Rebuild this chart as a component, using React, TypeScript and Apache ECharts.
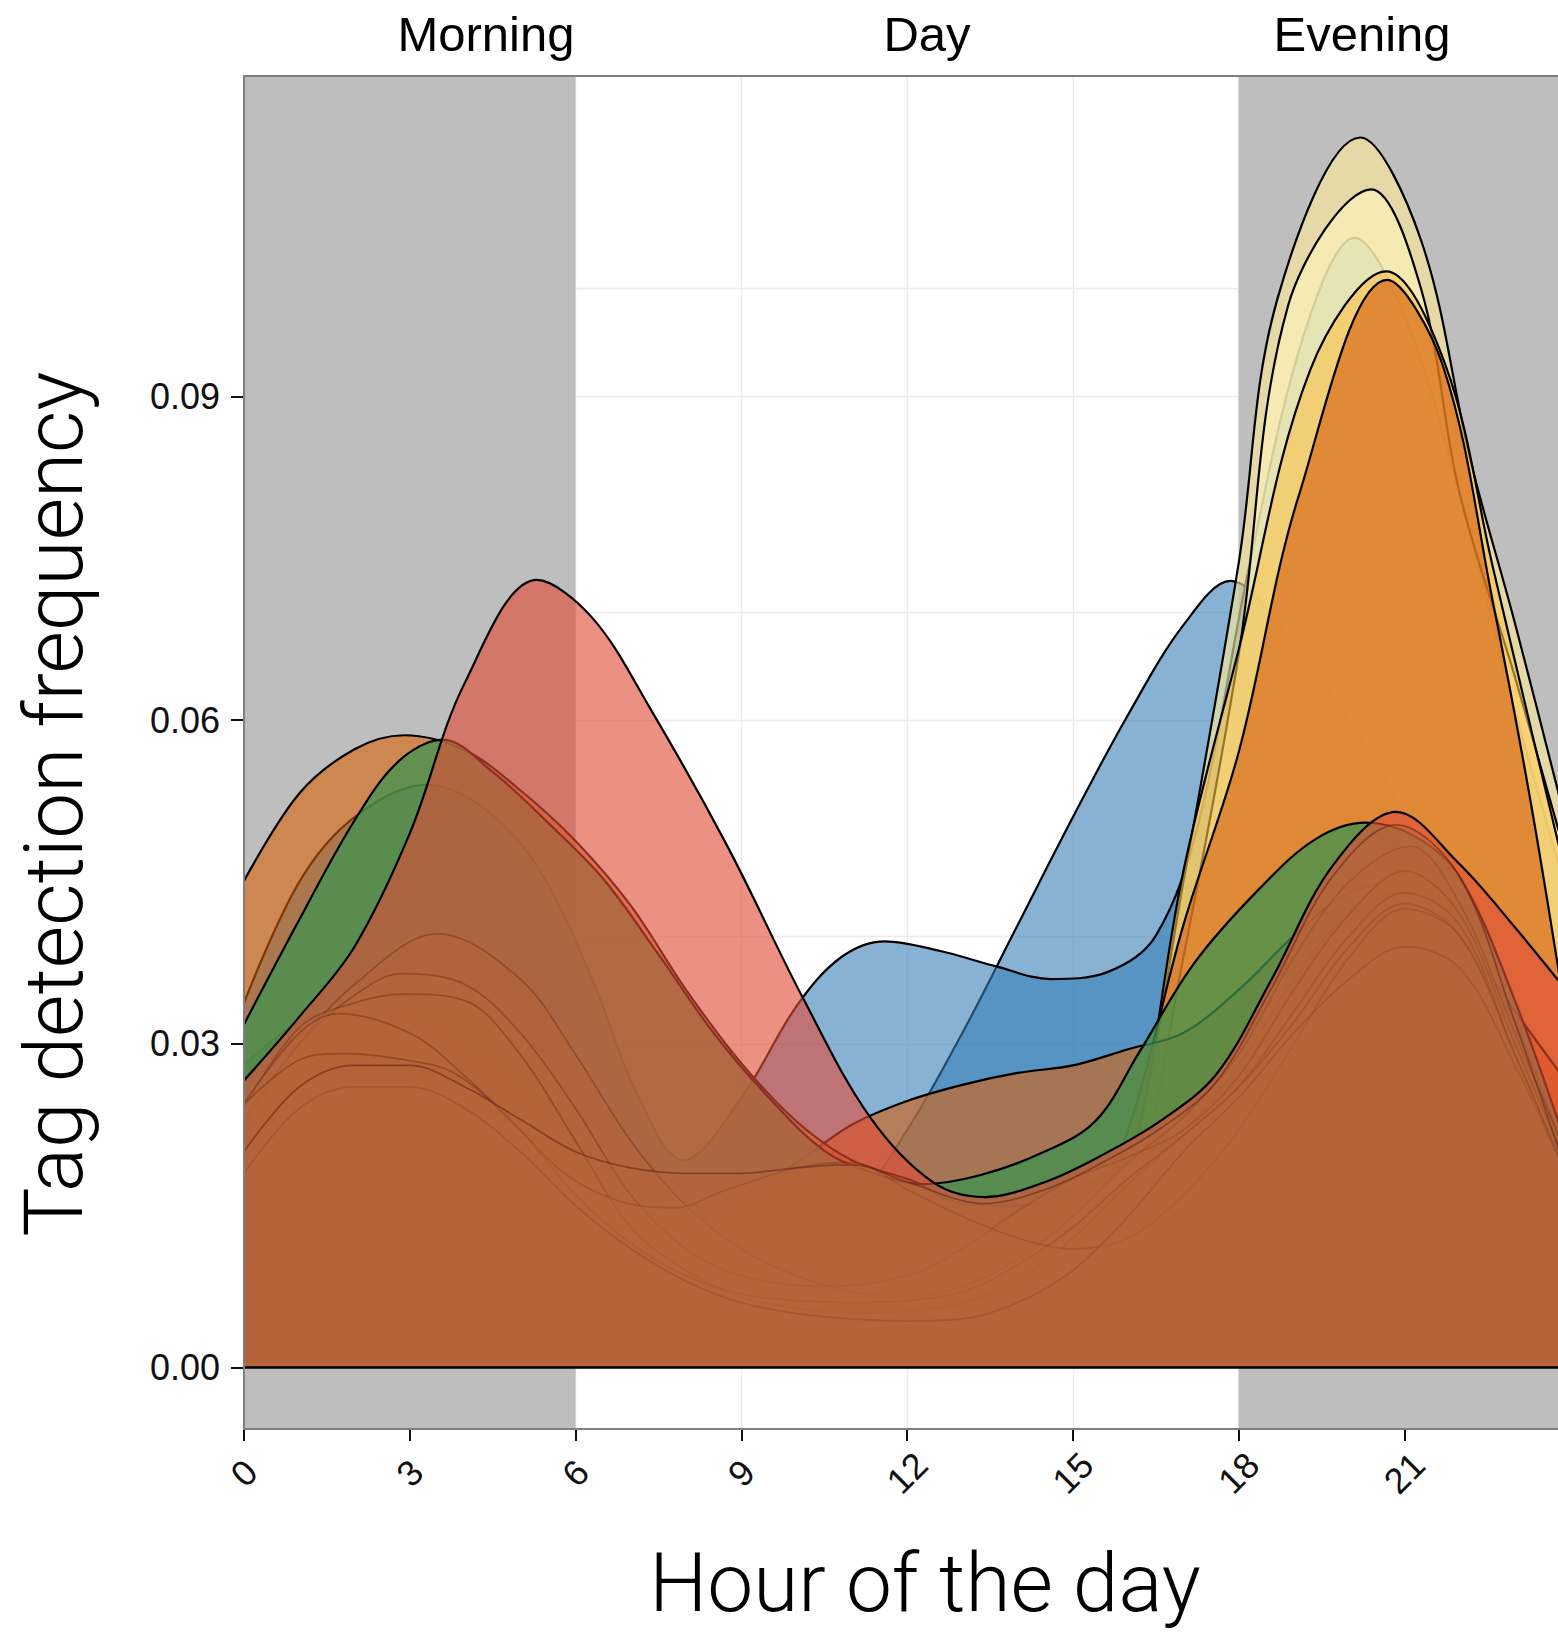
import React, { useEffect, useRef } from "react";
import * as echarts from "echarts";

// Each tag: [hour of day, density] pairs
const blueLate = [[0, 0.028], [1, 0.032], [2, 0.033], [3, 0.032], [4, 0.029], [5, 0.025], [6, 0.021], [7, 0.017], [8, 0.014], [9, 0.012], [10, 0.012], [11, 0.015], [12, 0.022], [13, 0.031], [14, 0.041], [15, 0.051], [16, 0.0605], [17, 0.0688], [17.85, 0.0729], [19, 0.067], [20, 0.06], [21, 0.0515], [22, 0.043], [23, 0.034], [24, 0.026]];
const blueTri = [[0, 0.0338], [1, 0.045], [2, 0.051], [3.3, 0.054], [4.3, 0.052], [5.3, 0.0465], [6.3, 0.036], [7.1, 0.0255], [7.95, 0.0192], [9, 0.025], [10, 0.0335], [10.8, 0.038], [11.6, 0.0395], [12.6, 0.0386], [13.6, 0.0372], [14.6, 0.036], [15.6, 0.0366], [16.5, 0.04], [17.3, 0.051], [18.2, 0.0745], [19.2, 0.096], [20.1, 0.1047], [21, 0.0975], [22, 0.081], [23, 0.061], [24, 0.043]];
const khaki = [[0, 0.012], [2, 0.013], [4, 0.011], [6, 0.007], [8, 0.005], [10, 0.004], [12, 0.0045], [14, 0.006], [15, 0.008], [16, 0.018], [17, 0.045], [18, 0.0745], [18.7, 0.099], [20.2, 0.114], [21.3, 0.1045], [22.2, 0.084], [23, 0.069], [24, 0.049]];
const paleYellow = [[0, 0.01], [2, 0.011], [4, 0.009], [6, 0.006], [8, 0.0045], [10, 0.0035], [12, 0.004], [14, 0.0055], [15, 0.007], [16, 0.014], [17, 0.038], [18, 0.066], [18.9, 0.0985], [20.4, 0.1092], [21.3, 0.1], [22, 0.081], [23, 0.064], [24, 0.046]];
const golden = [[0, 0.008], [2, 0.009], [4, 0.008], [6, 0.006], [8, 0.0045], [10, 0.004], [12, 0.0045], [14, 0.006], [15, 0.009], [16, 0.018], [17, 0.046], [18, 0.0665], [19.3, 0.0925], [20.67, 0.1016], [21.75, 0.0928], [22.6, 0.0742], [23.3, 0.059], [24, 0.044]];
const orange = [[0, 0.007], [2, 0.008], [4, 0.007], [6, 0.005], [8, 0.004], [10, 0.0035], [12, 0.004], [14, 0.007], [15, 0.011], [16, 0.022], [17, 0.041], [18, 0.057], [19.1, 0.081], [20.69, 0.1008], [21.7, 0.0928], [22.6, 0.071], [23.3, 0.052], [24, 0.03]];
const umber = [[0, 0.022], [1, 0.026], [2, 0.028], [3, 0.028], [4, 0.026], [5, 0.022], [6, 0.018], [7, 0.015], [8, 0.0135], [9, 0.016], [10, 0.019], [11, 0.0225], [12, 0.0247], [13, 0.0262], [14, 0.0273], [15, 0.028], [16, 0.0295], [17, 0.031], [18, 0.035], [19, 0.04], [20, 0.044], [21, 0.045], [22, 0.04], [23, 0.032], [24, 0.018]];
const sienna = [[0, 0.0451], [1, 0.0532], [2, 0.0573], [2.9, 0.0586], [4, 0.0572], [5, 0.0535], [6, 0.0488], [7, 0.0428], [8, 0.035], [9, 0.0282], [10, 0.0228], [11, 0.0192], [12.1, 0.0173], [13, 0.0152], [14, 0.015], [15, 0.0165], [16, 0.019], [17, 0.022], [18, 0.028], [19, 0.036], [20, 0.042], [21, 0.044], [22, 0.04], [23, 0.033], [24, 0.026]];
const green = [[0, 0.0318], [1, 0.0415], [2, 0.0507], [2.8, 0.0562], [3.6, 0.0582], [4.5, 0.0552], [5.5, 0.0505], [6.5, 0.0453], [7.5, 0.0383], [8.5, 0.031], [9.5, 0.025], [10.5, 0.0201], [11.4, 0.018], [12.3, 0.017], [13.3, 0.0178], [14.4, 0.0198], [15.4, 0.0228], [16.2, 0.0292], [17.2, 0.0375], [18.4, 0.0445], [19.4, 0.049], [20.3, 0.0505], [21.2, 0.0492], [22, 0.0455], [23, 0.034], [24, 0.0195]];
const salmon = [[0, 0.0266], [1, 0.0325], [2, 0.039], [3, 0.0495], [4, 0.0635], [5.3, 0.073], [6.3, 0.0695], [7.36, 0.061], [8.75, 0.0483], [10.13, 0.0341], [11.33, 0.0232], [12.46, 0.0172], [13.4, 0.0158], [14.5, 0.0172], [15.5, 0.0196], [16.6, 0.0229], [17.6, 0.0272], [18.6, 0.036], [19.7, 0.0465], [20.85, 0.0515], [21.97, 0.0468], [23, 0.0408], [24, 0.0345]];

// Remaining tags, all drawn in the shared brown
const brownA = [[0, 0.0225], [1, 0.03], [2, 0.0355], [3.5, 0.0402], [5, 0.036], [6, 0.029], [7, 0.021], [8, 0.015], [9, 0.011], [10, 0.0085], [11, 0.007], [12, 0.0065], [13, 0.0075], [14, 0.01], [15, 0.014], [16, 0.019], [17, 0.0232], [18, 0.029], [19, 0.038], [20, 0.045], [21.1, 0.0483], [22, 0.043], [23, 0.031], [24, 0.019]];
const brownB = [[0, 0.023], [1, 0.03], [2, 0.0345], [2.85, 0.0365], [4, 0.0355], [5, 0.031], [6, 0.024], [7, 0.016], [8, 0.011], [9, 0.0085], [10.5, 0.0075], [12, 0.0085], [13, 0.011], [14, 0.0145], [15, 0.0175], [16, 0.0195], [17, 0.022], [18, 0.027], [19, 0.035], [20, 0.042], [21, 0.046], [22, 0.042], [23, 0.03], [24, 0.018]];
const brownC = [[0, 0.024], [1, 0.0315], [2, 0.0338], [2.9, 0.0346], [4, 0.034], [5, 0.029], [6, 0.021], [7, 0.013], [8, 0.009], [9, 0.0065], [10, 0.0055], [11, 0.005], [12, 0.0052], [13, 0.006], [14, 0.008], [15, 0.012], [16, 0.017], [17, 0.0215], [18, 0.026], [19, 0.033], [20, 0.04], [21, 0.044], [22, 0.041], [23, 0.029], [24, 0.017]];
const brownD = [[0, 0.0245], [1, 0.031], [1.7, 0.0328], [3, 0.031], [4, 0.027], [5, 0.022], [6, 0.016], [7, 0.0115], [8, 0.0085], [9, 0.0068], [10, 0.0062], [11, 0.006], [12, 0.0062], [13, 0.007], [14, 0.0095], [15, 0.013], [16, 0.0175], [17, 0.0215], [18, 0.026], [19, 0.032], [20, 0.039], [21, 0.043], [22, 0.04], [23, 0.029], [24, 0.017]];
const brownE = [[0, 0.0244], [1, 0.0285], [1.8, 0.0291], [2.8, 0.0286], [3.8, 0.0273], [4.8, 0.023], [5.8, 0.018], [6.8, 0.0154], [7.8, 0.0148], [8.7, 0.0164], [10, 0.0185], [11, 0.019], [12, 0.0165], [13, 0.014], [14, 0.012], [15, 0.011], [16, 0.012], [17, 0.016], [18, 0.022], [19, 0.03], [20, 0.038], [21, 0.0425], [22, 0.04], [23, 0.029], [24, 0.017]];
const brownF = [[0, 0.018], [1, 0.024], [2, 0.026], [3, 0.026], [4, 0.024], [5, 0.02], [6, 0.015], [7, 0.011], [8, 0.008], [9, 0.006], [10, 0.005], [11, 0.0045], [12, 0.0043], [13, 0.0045], [14, 0.006], [15, 0.009], [16, 0.014], [17, 0.02], [18, 0.025], [19, 0.031], [20, 0.036], [21, 0.039], [22, 0.037], [23, 0.028], [24, 0.017]];
const brownG = [[0, 0.02], [1, 0.026], [2, 0.028], [3, 0.028], [4, 0.026], [5, 0.023], [6, 0.02], [7, 0.0185], [8, 0.018], [9, 0.018], [10, 0.0185], [11, 0.0188], [12, 0.0172], [13.4, 0.0152], [14.5, 0.0165], [15.5, 0.0189], [16.6, 0.0222], [17.6, 0.0265], [18.6, 0.0352], [19.7, 0.0455], [20.85, 0.0503], [21.97, 0.0457], [23, 0.032], [24, 0.017]];

// Axis ranges, ticks and day-period bands
const xMax = 23.78;
const yMin = -0.0057;
const yMax = 0.1197;
const yLabelValues = [0, 0.03, 0.06, 0.09];
const yGridValues = [0, 0.015, 0.03, 0.045, 0.06, 0.075, 0.09, 0.105];
const periodBands = [
  [0, 6],
  [18, xMax],
];
const periodLabels = [
  { text: "Morning", x: 486 },
  { text: "Day", x: 927 },
  { text: "Evening", x: 1362 },
];

const BLACK = "#000000";
const BROWN_FILL = "rgba(181,99,56,0.5)";
const BROWN_LINE = "rgba(105,45,20,0.42)";

type Layer = { name: string; values: number[][]; fill: string; line: string; width: number };

// Bottom-to-top drawing order
const layers: Layer[] = [
  { name: "blueLate", values: blueLate, fill: "rgba(55,126,184,0.6)", line: BLACK, width: 2.2 },
  { name: "blueTri", values: blueTri, fill: "rgba(55,126,184,0.6)", line: BLACK, width: 2.2 },
  { name: "khaki", values: khaki, fill: "rgba(255,235,153,0.6)", line: BLACK, width: 2.2 },
  { name: "paleYellow", values: paleYellow, fill: "rgba(255,245,188,0.6)", line: BLACK, width: 2.2 },
  { name: "golden", values: golden, fill: "rgba(250,194,74,0.6)", line: BLACK, width: 2.2 },
  { name: "orange", values: orange, fill: "rgba(212,92,15,0.6)", line: BLACK, width: 2.2 },
  { name: "umber", values: umber, fill: "rgba(198,104,37,0.7)", line: BLACK, width: 2.2 },
  { name: "sienna", values: sienna, fill: "rgba(217,95,2,0.58)", line: BLACK, width: 2.2 },
  { name: "green", values: green, fill: "rgba(62,147,78,0.75)", line: BLACK, width: 2.2 },
  { name: "salmon", values: salmon, fill: "rgba(225,77,57,0.625)", line: BLACK, width: 2.2 },
  { name: "brownA", values: brownA, fill: BROWN_FILL, line: BROWN_LINE, width: 1.7 },
  { name: "brownB", values: brownB, fill: BROWN_FILL, line: BROWN_LINE, width: 1.7 },
  { name: "brownC", values: brownC, fill: BROWN_FILL, line: BROWN_LINE, width: 1.7 },
  { name: "brownD", values: brownD, fill: BROWN_FILL, line: BROWN_LINE, width: 1.7 },
  { name: "brownE", values: brownE, fill: BROWN_FILL, line: BROWN_LINE, width: 1.7 },
  { name: "brownF", values: brownF, fill: BROWN_FILL, line: BROWN_LINE, width: 1.7 },
  { name: "brownG", values: brownG, fill: BROWN_FILL, line: "rgba(100,35,20,0.55)", width: 1.7 },
];

function densitySeries(layer: Layer, index: number) {
  return {
    type: "line",
    name: layer.name,
    data: layer.values,
    smooth: 0.35,
    symbol: "none",
    showSymbol: false,
    silent: true,
    clip: true,
    z: 3 + index,
    lineStyle: { color: layer.line, width: layer.width },
    areaStyle: { color: layer.fill, opacity: 1 },
  };
}

const textStyle = (text: string, fontSize: number, fontFamily: string, fontWeight: number) => ({
  text,
  fontSize,
  fontFamily,
  fontWeight,
  fill: "#000",
  align: "center",
  verticalAlign: "middle",
  textAlign: "center",
  textVerticalAlign: "middle",
});

export default function App() {
  const ref = useRef<HTMLDivElement>(null);

  useEffect(() => {
    document.body.style.margin = "0";
    if (!ref.current) return;
    const chart = echarts.init(ref.current, undefined, { renderer: "svg" });

    const series: any[] = [
      {
        type: "line",
        name: "grid",
        data: [],
        silent: true,
        z: 1,
        markLine: {
          z: 0,
          silent: true,
          symbol: "none",
          label: { show: false },
          lineStyle: { color: "#EBEBEB", width: 1.3, type: "solid" },
          data: yGridValues.map((v) => ({ yAxis: v })),
        },
      },
      {
        type: "line",
        name: "bands",
        data: [],
        silent: true,
        z: 1,
        markArea: {
          z: 1,
          silent: true,
          itemStyle: { color: "#BEBEBE" },
          data: periodBands.map(([a, b]) => [
            { xAxis: a, yAxis: yMin },
            { xAxis: b, yAxis: yMax },
          ]),
        },
      },
      ...layers.map(densitySeries),
      {
        type: "line",
        name: "baseline",
        data: [],
        silent: true,
        z: 60,
        markLine: {
          z: 60,
          silent: true,
          symbol: "none",
          label: { show: false },
          lineStyle: { color: "#000", width: 2.6, type: "solid" },
          data: [{ yAxis: 0 }],
        },
      },
    ];

    chart.setOption({
      animation: false,
      backgroundColor: "#ffffff",
      grid: { left: 244, top: 76, right: -2, bottom: 204, containLabel: false, show: true, backgroundColor: "#ffffff", borderWidth: 0 },
      xAxis: {
        type: "value",
        min: 0,
        max: xMax,
        interval: 3,
        axisLine: { show: false, onZero: false },
        axisTick: { show: true, length: 12, lineStyle: { color: "#111", width: 2 } },
        axisLabel: {
          rotate: 45,
          margin: 44,
          align: "center",
          verticalAlign: "middle",
          fontSize: 36,
          color: "#111",
          fontFamily: "Liberation Sans",
          showMaxLabel: false,
        },
        splitLine: { show: true, lineStyle: { color: "#EBEBEB", width: 1.3 } },
      },
      yAxis: {
        type: "value",
        min: yMin,
        max: yMax,
        axisLine: { show: false, onZero: false },
        axisTick: { show: true, length: 13, customValues: yLabelValues, lineStyle: { color: "#111", width: 2 } },
        axisLabel: {
          customValues: yLabelValues,
          formatter: (v: number) => v.toFixed(2),
          margin: 24,
          fontSize: 36,
          color: "#111",
          fontFamily: "Liberation Sans",
        },
        splitLine: { show: false },
      },
      graphic: [
        {
          type: "rect",
          z: 100,
          silent: true,
          shape: { x: 244, y: 76, width: 1400, height: 1353 },
          style: { fill: "none", stroke: "#7F7F7F", lineWidth: 2 },
        },
        ...periodLabels.map((p) => ({
          type: "text",
          z: 100,
          x: p.x,
          y: 34,
          style: textStyle(p.text, 49, "Liberation Sans", 400),
        })),
        {
          type: "text",
          z: 100,
          x: 925,
          y: 1583,
          style: textStyle("Hour of the day", 82, "Roboto", 300),
        },
        {
          type: "text",
          z: 100,
          x: 54,
          y: 804,
          rotation: Math.PI / 2,
          style: textStyle("Tag detection frequency", 82, "Roboto", 300),
        },
      ],
      series,
    });

    return () => chart.dispose();
  }, []);

  return <div ref={ref} style={{ width: 1558, height: 1633 }} />;
}
